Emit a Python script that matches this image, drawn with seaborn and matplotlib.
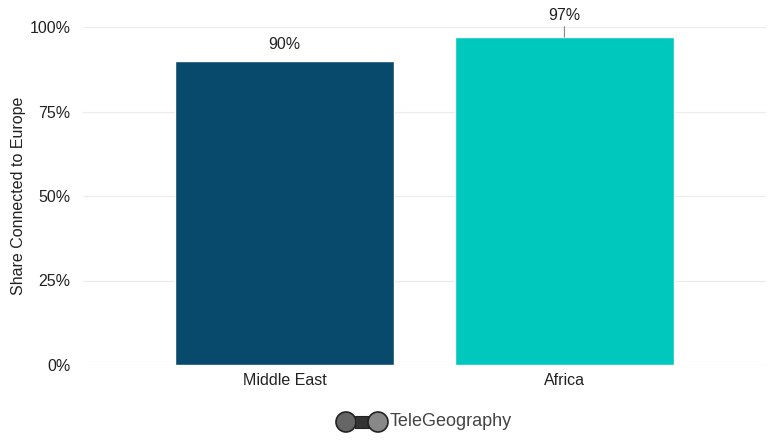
import matplotlib
matplotlib.use('Agg')
import matplotlib.pyplot as plt
import seaborn as sns
import pandas as pd
from matplotlib.patches import Ellipse, Rectangle

regions = ['Middle East', 'Africa']
share = [90, 97]
bar_colors = ['#084a6c', '#00c8bd']
yticks = [0, 25, 50, 75, 100]

sns.set_style('white')
plt.rcParams['font.family'] = ['Liberation Sans', 'DejaVu Sans']

df = pd.DataFrame({'region': regions, 'share': share})

W, H = 777, 442
fig = plt.figure(figsize=(W / 100, H / 100), dpi=100)
ax = fig.add_axes([83 / W, (H - 365) / H, (766 - 83) / W, 338 / H])

sns.barplot(data=df, x='region', y='share', hue='region', palette=bar_colors,
            saturation=1, width=0.78, legend=False, ax=ax, zorder=2)

ax.set_ylim(0, 100)
ax.set_xlim(-0.72, 1.72)
ax.set_yticks(yticks)
ax.set_yticklabels([f'{t}%' for t in yticks], fontsize=11.5, color='#222222')
ax.tick_params(axis='x', labelsize=11.5, colors='#222222', length=0, pad=6)
ax.tick_params(axis='y', length=0, pad=9)
ax.grid(axis='y', color='#ececec', linewidth=0.9, zorder=0)
ax.set_axisbelow(True)
for s in ax.spines.values():
    s.set_visible(False)
ax.set_xlabel('')
ax.set_ylabel('Share Connected to Europe', fontsize=11.5, color='#222222')
ax.yaxis.set_label_coords(-(83 - 26) / (766 - 83), 0.5)

# value labels
ax.annotate(f'{share[0]}%', xy=(0, share[0]), xytext=(0, 6), textcoords='offset points',
            ha='center', va='bottom', fontsize=11.5, color='#222222')
ax.annotate(f'{share[1]}%', xy=(1, share[1]), xytext=(0, 10), textcoords='offset points',
            ha='center', va='bottom', fontsize=11.5, color='#222222',
            arrowprops=dict(arrowstyle='-', color='#888888', lw=0.8, shrinkA=0, shrinkB=0))

# logo
ly = 20 / H
fig.text(390 / W, ly, 'TeleGeography', fontsize=13, color='#444444', va='center', ha='left')
fig.patches.append(Ellipse((346 / W, ly), 20 / W, 20 / H, transform=fig.transFigure,
                           facecolor='#666666', edgecolor='#222222', lw=1.2))
fig.patches.append(Rectangle((355 / W, ly - 6 / H), 15 / W, 12 / H, transform=fig.transFigure,
                             facecolor='#333333', edgecolor='#222222', lw=0.8))
fig.patches.append(Ellipse((378 / W, ly), 20 / W, 20 / H, transform=fig.transFigure,
                           facecolor='#888888', edgecolor='#222222', lw=1.2))

fig.savefig('out.png', dpi=100)
